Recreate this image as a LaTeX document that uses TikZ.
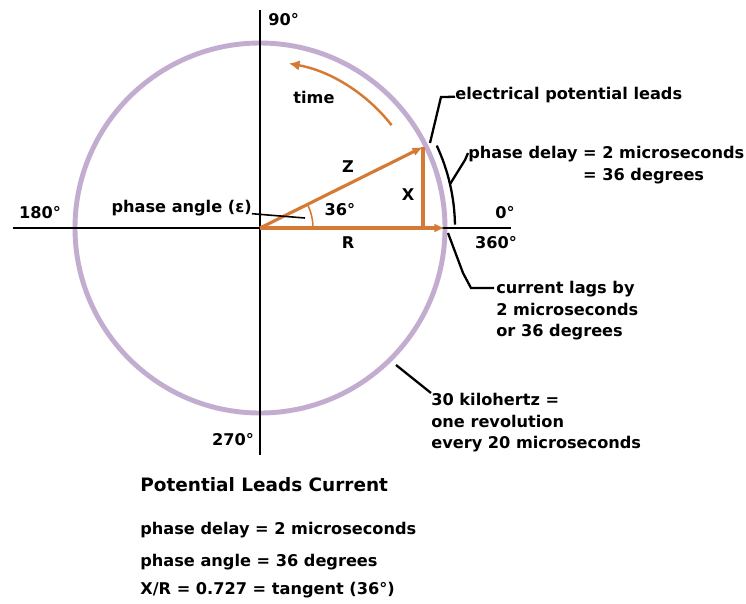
\documentclass[tikz,border=0pt]{standalone}
\usepackage{fontspec}
\setmainfont{DejaVu Sans}
\usetikzlibrary{arrows.meta}
\definecolor{wheel}{RGB}{194,172,208}
\definecolor{phasor}{RGB}{212,122,52}

\begin{document}
\begin{tikzpicture}[x=0.02cm,y=0.02cm,
  lbl/.style={font=\fontsize{9.2}{12.2}\selectfont\bfseries,inner sep=0pt},
  lead/.style={line width=1.3pt},
  vec/.style={phasor,line width=1.8pt,-{Latex[length=6pt,width=5pt]}}]
\useasboundingbox (-260,-375) rectangle (486,228);
\coordinate (O) at (0,0);
\coordinate (P) at (163,81);
\coordinate (Q) at (163,0);
\coordinate (E) at (185,0);
% the turning circle and the axes
\draw[wheel,line width=2.8pt] (O) circle[radius=185];
\coordinate (N) at (0,218);
\coordinate (S) at (0,-227);
\coordinate (W) at (-247,0);
\coordinate (F) at (251,0);
\draw[line width=1.7pt] (N) -- (S);
\draw[line width=1.1pt] (W) -- (F);
% phasors
\draw[vec] (O) -- (E);
\draw[vec] (O) -- (P);
\draw[phasor,line width=2.2pt] (P) -- (Q);
\draw[phasor,line width=0.9pt] (53,0) arc[start angle=0,end angle=26.4,radius=53];
\draw[phasor,line width=1.4pt,-{Latex[length=6pt,width=6pt]}] (38:167)
  arc[start angle=38,end angle=80,radius=167];
% angle labels
\node[lbl,anchor=west] (d90) at (8,208) {90°};
\node[lbl] (d180) at (-220,15) {180°};
\node[lbl] (d0) at (245,15) {0°};
\node[lbl] (d360) at (236,-15) {360°};
\node[lbl] (d270) at (-27,-212) {270°};
\node[lbl] (time) at (54,131) {time};
\node[lbl] (z) at (88,61) {Z};
\node[lbl] (r) at (88,-15) {R};
\node[lbl] (x) at (148,33) {X};
\node[lbl] (ang) at (80,18) {36°};
% callouts
\node[lbl,anchor=east] (pa) at (-8,20) {phase angle (ε)};
\coordinate (pa1) at (45,10);
\draw[line width=0.9pt] (pa) -- (pa1);
\node[lbl,anchor=west] (epl) at (195,133) {electrical potential leads};
\coordinate (epl1) at (170,85);
\draw[lead] (epl1) -- (181,131) -- (epl);
\draw[lead] (1:195) arc[start angle=1,end angle=25,radius=195];
\node[lbl,anchor=west] (pd) at (208,63)
  {\begin{tabular}{@{}l@{ }l@{}}phase delay&= 2 microseconds\\&= 36 degrees\end{tabular}};
\coordinate (pd1) at (13:195);
\draw[lead] (pd1) -- (205,68) -- (pd.west |- 210,75);
\node[lbl,anchor=north west,align=left] (cl) at (236,-53)
  {current lags by\\2 microseconds\\or 36 degrees};
\coordinate (cl1) at (188,-5);
\draw[lead] (cl1) -- (203,-45) -- (211,-60) -- (234,-60);
\node[lbl,anchor=north west,align=left] (khz) at (171,-165)
  {30 kilohertz =\\one revolution\\every 20 microseconds};
\coordinate (khz1) at (136,-137);
\draw[lead] (khz1) -- (khz.north west);
% summary
\node[lbl,anchor=west,font=\fontsize{10.5}{12}\selectfont\bfseries] (sum) at (-120,-257) {Potential Leads Current};
\node[lbl,anchor=west] (sum1) at (-120,-302) {phase delay = 2 microseconds};
\node[lbl,anchor=west] (sum2) at (-120,-334) {phase angle = 36 degrees};
\node[lbl,anchor=west] (sum3) at (-120,-362) {X/R = 0.727 = tangent (36°)};
\end{tikzpicture}
\end{document}
